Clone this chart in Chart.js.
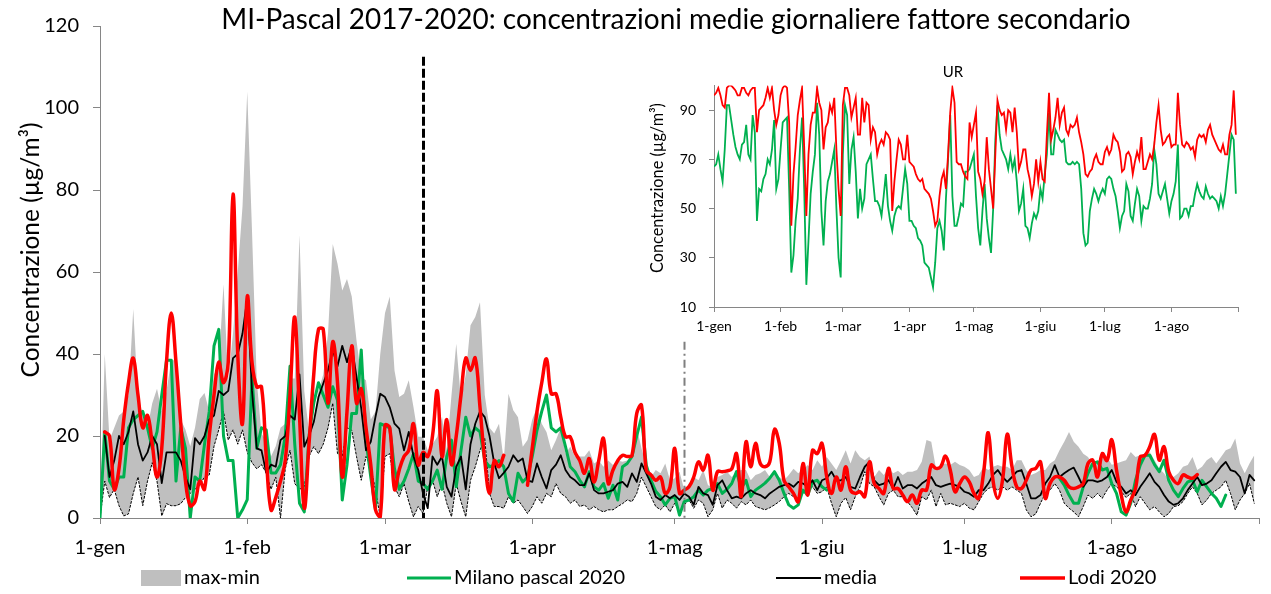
<!DOCTYPE html>
<html><head><meta charset="utf-8">
<script src="https://cdn.jsdelivr.net/npm/chart.js@4.4.1/dist/chart.umd.min.js"></script>
<style>
html,body{margin:0;padding:0;background:#fff;}
#wrap{position:relative;width:1271px;height:594px;overflow:hidden;background:#fff;}
#main{position:absolute;left:0;top:0;width:1271px;height:594px;}
#inset{position:absolute;left:630px;top:55px;width:630px;height:300px;}
</style></head><body>
<div id="wrap"><canvas id="main" width="1271" height="594"></canvas><canvas id="inset" width="630" height="300"></canvas></div>
<script>
// ---------------- DATA ----------------
const days = Array.from({length: 244}, (_, i) => i); // 1-gen .. 31-ago 2020 (day index)
const monthTicks  = [0, 31, 60, 91, 121, 152, 182, 213, 244];
const monthLabels = ['1-gen','1-feb','1-mar','1-apr','1-mag','1-giu','1-lug','1-ago',''];
const yTicksMain  = [0, 20, 40, 60, 80, 100, 120];
const yTicksInset = [10, 30, 50, 70, 90];
const lockdownDay = 68, lockdownTop = 112.5;
const reopenDay = 123, reopenTop = 43;

// max 2017-2019
const maxVals = [
 0,40,19,22,25,26,30,51,29,25.5,
 22,28,31.5,26,31,38.5,38.5,24,21.5,17.5,
 22,29,30.5,26,35,37,57,33.5,45,60,
 76,104,70,33.5,20.5,19,15,17.5,22,23,
 34,34,69,31,21,24,31,35,45,66.8,
 62,55.5,58.3,54,43.3,34.4,33.6,24,26,40,
 50,54,36,29.5,30.3,33.6,27,19.8,19.8,16.5,
 18,19.8,24.7,16.5,30,42.5,28.7,35,47,49,
 52.6,30,22,20.6,23,14,30.3,26.3,24.6,17.4,
 19,24,27,23,21,16.5,19,22,15.7,17.4,
 15,15,15,16.5,13.3,14,12.5,14,12.9,14,
 13.7,14,15.7,22,17,12.5,10,11.7,10.9,13.3,
 9.2,9.7,11.3,6.8,8.4,10,9.2,11.7,8,7.6,
 10,10.5,11.3,10,11.3,11.7,11.7,9.2,10.5,10.9,
 11.7,10,11.3,10,9.2,10.5,12,10.9,11.7,12.9,
 11.7,14.1,12.5,14.9,13.3,11.7,14,16.5,13.3,16.5,
 14.9,14.1,15,10,11.7,10.5,12.1,10.9,11.5,10.5,
 11.3,11.3,11.7,13.7,19,18.6,12.1,12.9,13.3,12.9,
 13.7,12.9,12.5,11.7,10,10.5,12.5,11.7,12.5,12.9,
 12.5,12.5,11.7,14.1,14.1,11.7,10.5,11,11.7,11.7,
 13.3,14.1,16.5,18.6,21,18.6,17.4,15.7,14.9,12.9,
 13.3,16.1,14.9,13,13.3,13.7,14.1,16.1,14.9,15.3,
 14.9,16.1,14.1,12.1,10.9,9.2,10,10.9,12.5,12.9,
 14.9,11.7,12.5,14.1,14.9,13.3,14.9,16.5,17,19.4,
 13.3,10.9,13.3,15.3
];
// min 2017-2019
const minVals = [
 0,9,5,7,3,0.5,1,6,10,3,
 9,13.5,9,0.5,3.5,3,3,3.5,5,6,
 7,8,10,10.5,17.5,21.5,26,19,21.5,18,
 21.5,16,13.5,12,13,11,7,10,0,12,
 16.5,8.4,7,7.6,15,17.4,15.7,18,22,28,
 15.7,15,22,21.4,15,9.2,15,12.5,6.8,0.3,
 15,15.7,7.6,5.2,8.4,4,0.3,2.8,1.1,7.6,
 9.2,5.2,8.4,3.6,0.3,8.4,4,0.3,9.2,12.5,
 16.5,19.4,6,2.8,2.8,2.4,5.2,3.6,4.4,2.8,
 1.1,2.8,5.2,3.6,6,5.2,8.4,6,5.2,3.6,
 4.4,2.8,3.2,2,2.8,2,1.5,2,2,2.8,
 3.5,4.4,4,6,10,7.6,5.2,2.8,2,3.2,
 1.5,3.6,1.5,3.2,4.4,2.4,4.4,3.6,0.3,2,
 6,2.4,4.4,3.6,2.4,4,3.2,4.4,2.8,2.4,
 2,2.5,3.2,4,5.2,6,5.2,4.8,6,6.8,
 7.6,6,6.4,7.6,3.6,0.3,3.6,5,2,5.2,
 7.6,11.3,8.4,7.6,5.2,3.2,6,6.8,5.2,5.2,
 4,2.5,0.7,5.2,4.4,6.8,2.8,6,3.2,3.6,
 3.2,2.8,3.6,2.4,2,4,6,7.2,7.6,6.8,
 7.6,6.8,7.6,6.8,6,2,0.3,1,3.6,6,
 6.8,8.4,6.8,3.6,2.4,1.5,0.3,2.8,5.6,4.8,
 6,4.8,6.8,8.4,7.6,6.5,5,6,2.8,5.2,
 3.6,2,2.8,1.5,0.3,1.1,2.8,3,4,6,
 7.6,6,3.2,4.4,6,6.8,7.6,9.2,6,2,
 4.4,6,8.4,3.6
];
// Milano pascal 2020
const milano2020 = [
 0,21,9,7,10,10,22,24,25,26,
 22,17,21,30,38.5,38.5,9,22,17,0,
 10,9,18,26,42,46,20,14,14,0,
 2,4.5,34.5,17,22,21.5,11,11,13,20,
 37,18,3.6,1.5,20,28,33,30,27,32,
 28.7,4.4,13,25.5,25.5,41,19,10,2,23,
 22.5,22,12,7,9,12,15.7,9,8.4,7,
 9,11.7,7,15,19,7.6,16.5,24.6,20,22,
 21,14,12.5,12.9,14,12.5,6,4,10.9,8.8,
 10,15,21.4,26,30,22,21,22,17.4,12.5,
 11.3,9.2,7.6,11.3,7.6,6.8,8.4,4.8,8,4.4,
 12.5,13.3,15,20,24.6,12.9,9.2,6.5,5.2,3.2,
 4.8,5.2,0.7,4,4.4,5.2,6.8,5.6,6.8,7.2,
 8.4,6,7,8.4,11.3,7.2,9.2,5.2,6.8,7.6,
 8.5,9.7,11.3,9.2,6,3.2,2.4,3.2,6.8,5.6,
 8.8,9.2,7.6,6.8,null,null,null,null,null,null,
 null,null,null,null,null,null,null,null,null,null,
 null,null,null,null,null,null,null,null,null,null,
 null,null,null,null,null,null,null,null,null,null,
 null,null,null,null,null,null,null,null,null,null,
 null,null,9.7,8,5.6,3.6,3.6,7.6,10.9,13.3,
 13.7,11.7,12.1,8.4,6,1.5,0.7,3.6,9.2,12.9,
 15.3,15.3,13,11.3,14.1,9.2,6.8,5.2,7.2,8.8,
 9.2,6.4,9.2,7.6,6,4.8,2.8,5.6,null,null,
 null,null,null,null
];
// media 2017-2019
const media = [
 null,20,10,14,20,18,21,26,18,14,
 16,20,18,8.5,16,16,16,14,10,7,
 19.5,18,20,24,25,31,30,31,39,40,
 45,53.5,31,17,16.5,11,13,12.5,19,20,
 25,24,35,17.4,20,23.4,29.5,32.8,36,41,
 37,42,38,42,34.4,26.7,16.5,18.6,24.7,30.3,
 29.5,27,23,21.8,16.5,21,15,11.7,6,2.4,
 15,13,15,7.6,5.2,12.5,15,7,18,23,
 26,24.6,20,13.3,9.7,11,12.5,15.3,13.7,14.5,
 9.2,8.8,13.3,10,7.2,11.7,13,15.3,11.7,10,
 9.2,8,8,10.9,6.8,6,6,6.4,6.8,8.4,
 8.8,7.6,10.9,8.8,13.3,10.9,8.4,5.2,4.4,5.6,
 4.8,5.6,4.4,6,5.2,3.2,7.6,6,5.6,3.2,
 8,9.2,6.8,4.8,5.2,4.8,6,6.8,6,5.6,
 4.8,6,6.8,7.6,8,8.4,7.6,8.8,8.4,7.6,
 9.2,6.8,9.2,9.7,11.3,9.2,9.2,10,7.6,7.2,
 10,12.5,13.7,9.2,8,8.4,9.2,7.2,10,7.2,
 8,8,7.2,8.4,9.2,10,8,7.6,8,8.4,
 8,7.6,6.4,6,5.2,6.8,6.8,8.4,10.5,11.7,
 10,8.8,10,11.3,11.7,8.4,4.8,4.8,5.6,8.4,
 10,12.9,10,10.9,11.7,12.3,10,7.6,9.2,9.2,
 8.8,9.2,10,11.7,8.8,7.6,6,6.8,5.6,7.6,
 9.2,10.9,8.8,7.6,5.6,4,3.2,3.6,4.8,6.8,
 8.4,10,8,8.4,9.2,10.9,12.5,13.7,11.7,11.3,
 10,6,10.5,9.2
];
// Lodi 2020
const lodi2020 = [
 null,21,20,7,12,24,33,39,30,22,
 25,18,10,17,38,50,38,23,9,3,
 4,9,7,20,30,38,33,38,79,40,
 23,54,38,32,32,15,2,5,9,14,
 30,49,25,2.4,18,35,46,46,28,43,
 33,10,26,42,28,31.5,22,13,2,0.3,
 22.6,22,7,11.7,15,16.5,23,13,16,15,
 20,31,15,24,13,20,30,39,36,39,
 27,14,6,14,12.5,15.3,null,null,null,null,
 8,17,26,33,38.8,30.3,30.3,24.6,19.8,19.8,
 16,14,10.9,14.5,8.8,14,19.4,8.4,11.7,14,
 15.3,15,15.3,25.5,27.5,11.7,10.5,9.2,10,6,
 7.6,17,6,6.8,7.6,10,13.7,11.7,15.3,6.8,
 11.3,11.3,11.5,12,15.7,5.2,18.6,12.5,18.2,13.3,
 12.5,13.7,21.6,18.2,9.2,7.6,6,4,13.3,5.6,
 16.5,15.7,18.2,10,6,10,6.8,12.5,6.8,6,
 6.4,5.2,13.7,8.4,7.2,6,12.1,7.2,7.2,5.6,
 4,5.6,3.6,6.8,6.8,12.9,12.1,12.5,15.1,11.7,
 6.4,8.4,10,8.8,6,4.8,10.9,20.8,9.2,4.8,
 9.2,20.4,12.5,7.6,7.2,9.2,11.7,12.1,13.7,4.8,
 8.4,10,10,9.2,7.6,7.2,7.6,8.4,13.3,14.1,
 10,15.7,14,19.1,11.7,5.6,1.5,4.4,7.2,14.9,
 15.3,17.4,20.4,14.1,17.4,11.3,9.2,8.4,10.5,10,
 9.7,10.6,null,null,null,null,null,null,null,null,
 null,null,null,null
];
// UR (inset) Milano
const urMilano = [
 67,68,72,66,61,74,92,92,86,80,
 75,72,70,76,77,84,72,70,88,81,
 45,58,57,62,64,70,68,74,86,58,
 62,74,85,86,87,58,24,31,45,54,
 74,87,58,19,37,56,65,72,93,80,
 49,35,53,61,64,69,74,50,30,22,
 72,92,88,60,74,79,65,46,58,50,
 54,68,70,72,62,53,53,51,47,55,
 64,51,45,41,47,50,51,50,58,66,
 60,45,45,43,42,38,37,35,28,27,
 26,22,18,28,42,45,41,33,54,70,
 88,55,43,43,47,52,51,65,65,66,
 69,72,55,42,35,49,60,46,38,32,
 50,78,92,80,74,72,70,66,72,66,
 70,61,49,52,58,43,42,38,44,48,
 46,49,58,54,64,72,89,72,72,82,
 80,78,77,78,69,68,68,69,68,69,
 68,58,40,35,36,49,54,58,56,53,
 56,58,56,62,63,62,58,55,49,42,
 47,49,60,57,47,45,52,58,55,45,
 51,50,50,54,60,74,68,56,54,57,
 60,54,48,53,56,61,76,46,47,50,
 50,47,51,51,56,60,57,55,54,59,
 56,54,55,54,53,50,55,51,56,64,
 72,80,78,56
];
// UR (inset) Lodi
const urLodi = [
 96,97,99,96,92,91,99,100,100,99,
 98,96,96,99,99,97,96,98,99,99,
 81,90,91,92,95,99,95,99,90,84,
 88,96,99,100,99,85,43,64,75,88,
 94,99,75,47,72,84,89,89,99,93,
 90,74,83,85,92,89,95,74,58,47,
 92,99,99,96,87,91,95,80,80,95,
 85,93,92,78,83,81,72,76,78,76,
 81,80,78,49,61,70,78,76,70,70,
 80,69,68,67,64,62,61,62,58,57,
 56,54,49,43,45,55,62,65,58,72,
 89,99,93,69,68,68,65,63,62,85,
 79,84,89,65,62,56,61,79,66,58,
 50,72,94,90,88,89,82,90,89,81,
 91,81,66,69,74,74,66,62,55,60,
 70,61,69,62,61,80,97,78,82,87,
 95,84,89,91,82,80,84,83,84,87,
 81,77,72,64,63,65,66,70,72,69,
 68,68,73,75,72,74,80,78,77,73,
 65,66,72,73,71,64,69,73,70,79,
 66,66,69,72,70,76,85,92,82,76,
 77,79,80,75,76,76,97,84,76,75,
 77,76,74,75,71,78,80,79,80,77,
 82,84,80,78,76,74,73,76,72,72,
 80,84,98,80
];

// ---------------- STYLE ----------------
const FONT = 'Lato, "Open Sans", sans-serif';
const AXIS = '#868686';
const GREY = '#bfbfbf', GREEN = '#00b050', RED = '#ff0000', BLACK = '#000000';
const titleText = 'MI-Pascal 2017-2020: concentrazioni medie giornaliere fattore secondario';
const yTitleText = 'Concentrazione (\u00b5g/m\u00b3)';
const legendItems = [
  {text: 'max-min', kind: 'box', color: GREY, x: 141, w: 40},
  {text: 'Milano pascal 2020', kind: 'line', color: GREEN, x: 407, w: 44, lw: 3},
  {text: 'media', kind: 'line', color: BLACK, x: 776, w: 45, lw: 2},
  {text: 'Lodi 2020', kind: 'line', color: RED, x: 1020, w: 45, lw: 3.5}
];

function fitSize(ctx, text, target) {
  ctx.font = '100px ' + FONT;
  return 100 * target / ctx.measureText(text).width;
}

const mainDecor = {
  id: 'mainDecor',
  afterDatasetsDraw(chart) {
    const {ctx, scales: {x, y}} = chart;
    ctx.save();
    ctx.lineCap = 'butt';
    let px = Math.round(x.getPixelForValue(lockdownDay)) + 0.5;
    ctx.strokeStyle = BLACK; ctx.lineWidth = 3; ctx.setLineDash([9, 3]);
    ctx.beginPath(); ctx.moveTo(px, y.getPixelForValue(lockdownTop)); ctx.lineTo(px, y.getPixelForValue(0)); ctx.stroke();
    px = Math.round(x.getPixelForValue(reopenDay)) + 0.5;
    ctx.strokeStyle = '#7f7f7f'; ctx.lineWidth = 2; ctx.setLineDash([8, 4, 2, 4]);
    ctx.beginPath(); ctx.moveTo(px, y.getPixelForValue(reopenTop)); ctx.lineTo(px, y.getPixelForValue(0)); ctx.stroke();
    ctx.restore();
  },
  afterDraw(chart) {
    const ctx = chart.ctx;
    ctx.save();
    ctx.fillStyle = '#000';
    ctx.textBaseline = 'middle';
    // title
    let s = fitSize(ctx, titleText, 910);
    ctx.font = s + 'px ' + FONT; ctx.textAlign = 'center';
    ctx.fillText(titleText, 676, 20);
    // y title
    s = fitSize(ctx, yTitleText, 255);
    ctx.save();
    ctx.translate(31, 250); ctx.rotate(-Math.PI / 2);
    ctx.font = s + 'px ' + FONT; ctx.textAlign = 'center';
    ctx.fillText(yTitleText, 0, 0);
    ctx.restore();
    // legend
    ctx.font = '20px ' + FONT; ctx.textAlign = 'left';
    const ly = 578;
    legendItems.forEach(it => {
      if (it.kind === 'box') {
        ctx.fillStyle = it.color; ctx.fillRect(it.x, ly - 8, it.w, 16);
      } else {
        ctx.strokeStyle = it.color; ctx.lineWidth = it.lw;
        ctx.beginPath(); ctx.moveTo(it.x, ly); ctx.lineTo(it.x + it.w, ly); ctx.stroke();
      }
      ctx.fillStyle = '#000';
      ctx.fillText(it.text, it.x + it.w + 3, ly);
    });
    ctx.restore();
  }
};

new Chart(document.getElementById('main'), {
  type: 'line',
  data: {
    labels: days,
    datasets: [
      {label: 'max', data: maxVals, borderColor: 'rgba(0,0,0,0)', borderWidth: 0, backgroundColor: GREY, fill: '+1', pointRadius: 0, tension: 0, order: 4},
      {label: 'min', data: minVals, borderColor: BLACK, borderWidth: 1, borderDash: [2, 2], fill: false, pointRadius: 0, tension: 0, order: 3},
      {label: 'Milano pascal 2020', data: milano2020, borderColor: GREEN, borderWidth: 3, fill: false, pointRadius: 0, tension: 0, order: 2},
      {label: 'media', data: media, borderColor: BLACK, borderWidth: 1.8, fill: false, pointRadius: 0, tension: 0, order: 1},
      {label: 'Lodi 2020', data: lodi2020, borderColor: RED, borderWidth: 3.5, fill: false, pointRadius: 0, tension: 0.4, order: 0}
    ]
  },
  options: {
    responsive: false, animation: false, devicePixelRatio: 1,
    layout: {padding: {left: 0, right: 3, top: 25, bottom: 0}},
    plugins: {legend: {display: false}, title: {display: false}, tooltip: {enabled: false}},
    elements: {line: {borderJoinStyle: 'round', borderCapStyle: 'round'}},
    scales: {
      x: {
        type: 'linear', min: 0, max: 244,
        afterBuildTicks: s => { s.ticks = monthTicks.map(v => ({value: v})); },
        afterFit: s => { s.height = 76; },
        ticks: {callback: (v, i) => monthLabels[i], autoSkip: false, maxRotation: 0, minRotation: 0,
                font: {family: FONT, size: 20}, color: '#000', padding: 12},
        grid: {drawOnChartArea: false, drawTicks: true, tickLength: 6, color: AXIS},
        border: {color: AXIS, width: 1}
      },
      y: {
        min: 0, max: 120,
        afterBuildTicks: s => { s.ticks = yTicksMain.map(v => ({value: v})); },
        afterFit: s => { s.width = 100; },
        ticks: {font: {family: FONT, size: 20}, color: '#000', padding: 14},
        grid: {drawOnChartArea: false, drawTicks: true, tickLength: 7, color: AXIS},
        border: {color: AXIS, width: 1}
      }
    }
  },
  plugins: [mainDecor]
});

const insetDecor = {
  id: 'insetDecor',
  afterDraw(chart) {
    const ctx = chart.ctx;
    ctx.save();
    ctx.fillStyle = '#000'; ctx.textBaseline = 'middle'; ctx.textAlign = 'center';
    ctx.font = '15px ' + FONT;
    ctx.fillText('UR', 323, 17);
    const s = fitSize(ctx, yTitleText, 170);
    ctx.translate(28, 133); ctx.rotate(-Math.PI / 2);
    ctx.font = s + 'px ' + FONT;
    ctx.fillText(yTitleText, 0, 0);
    ctx.restore();
  }
};

new Chart(document.getElementById('inset'), {
  type: 'line',
  data: {
    labels: days,
    datasets: [
      {label: 'UR Lodi', data: urLodi, borderColor: RED, borderWidth: 1.8, pointRadius: 0, tension: 0, fill: false, order: 0},
      {label: 'UR Milano', data: urMilano, borderColor: GREEN, borderWidth: 1.8, pointRadius: 0, tension: 0, fill: false, order: 1}
    ]
  },
  options: {
    responsive: false, animation: false, devicePixelRatio: 1,
    layout: {padding: {left: 0, right: 22, top: 30.5, bottom: 0}},
    plugins: {legend: {display: false}, title: {display: false}, tooltip: {enabled: false}},
    scales: {
      x: {
        type: 'linear', min: 0, max: 244,
        afterBuildTicks: s => { s.ticks = monthTicks.map(v => ({value: v})); },
        afterFit: s => { s.height = 48; },
        ticks: {callback: (v, i) => monthLabels[i], autoSkip: false, maxRotation: 0, minRotation: 0,
                font: {family: FONT, size: 14}, color: '#000', padding: 6},
        grid: {drawOnChartArea: false, drawTicks: true, tickLength: 5, color: AXIS},
        border: {color: AXIS, width: 1}
      },
      y: {
        min: 10, max: 100,
        afterBuildTicks: s => { s.ticks = yTicksInset.map(v => ({value: v})); },
        afterFit: s => { s.width = 84; },
        ticks: {font: {family: FONT, size: 14}, color: '#000', padding: 13},
        grid: {drawOnChartArea: false, drawTicks: true, tickLength: 5, color: AXIS},
        border: {color: AXIS, width: 1}
      }
    }
  },
  plugins: [insetDecor]
});

const lens = {maxVals, minVals, milano2020, media, lodi2020, urMilano, urLodi};
const bad = Object.entries(lens).filter(([k, v]) => v.length !== 244).map(([k, v]) => k + ':' + v.length);
if (bad.length) throw new Error('length mismatch ' + bad.join(', '));
</script></body></html>
